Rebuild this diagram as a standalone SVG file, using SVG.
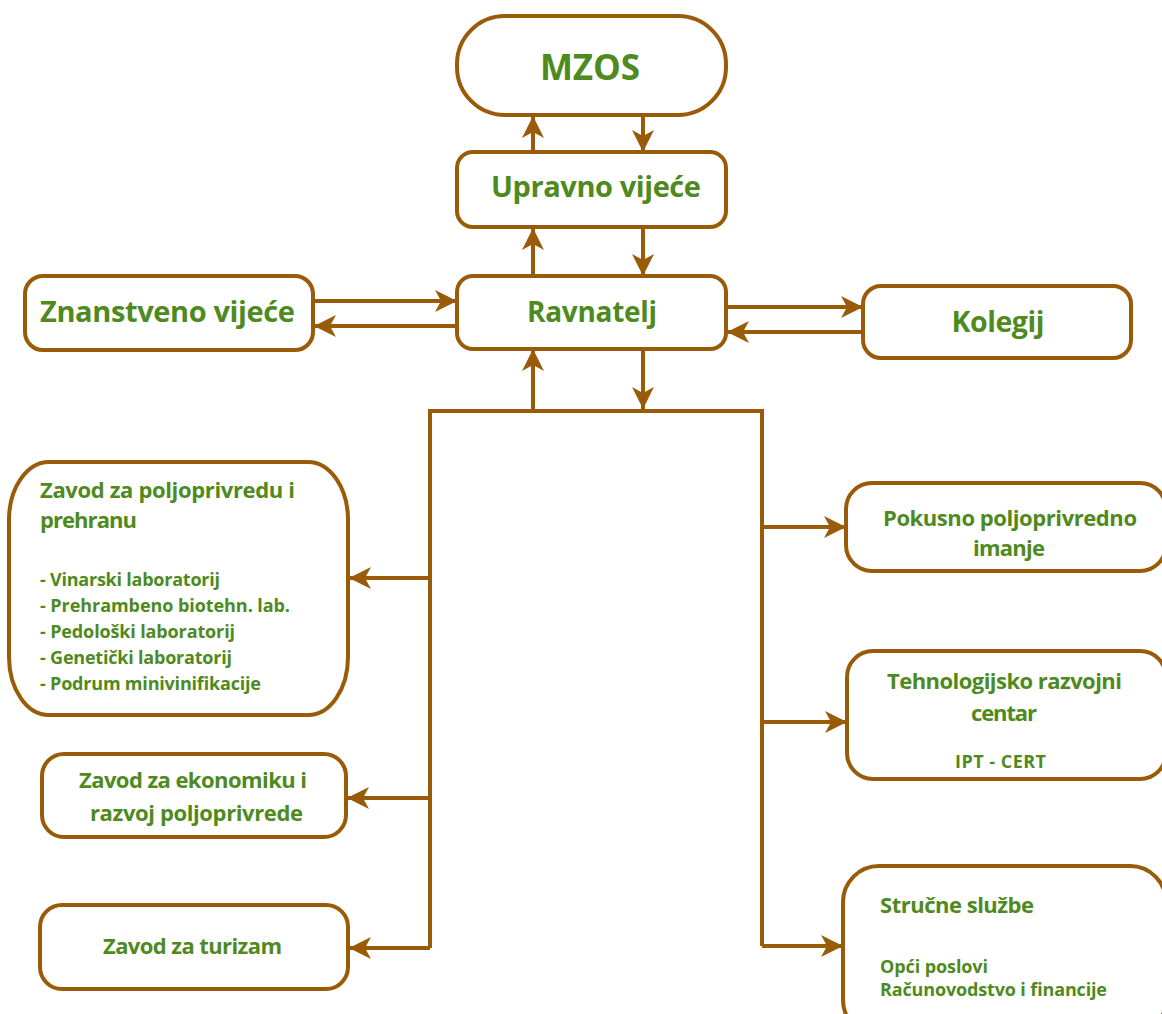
<svg xmlns="http://www.w3.org/2000/svg" width="1162" height="1014" viewBox="0 0 1162 1014">
<style>
.box{fill:#fff;stroke:#9a5b08;stroke-width:4}
.ln{fill:none;stroke:#9a5b08;stroke-width:4}
.t{font-family:"Open Sans","Noto Sans","Liberation Sans",sans-serif;font-weight:bold;fill:#4e8a20}
.c{text-anchor:middle}
.h1{font-size:29px}
.h2{font-size:22px}
.h3{font-size:18px}
</style>
<defs>
<marker id="ah" markerUnits="userSpaceOnUse" markerWidth="24" markerHeight="22" refX="22" refY="11" orient="auto">
<path d="M0,0 L22,11 L0,22 L6,11 Z" fill="#9a5b08"/>
</marker>
</defs>
<rect width="1162" height="1014" fill="#fff"/>
<g id="connectors">
<line class="ln" x1="533" y1="152" x2="533" y2="116" marker-end="url(#ah)"/>
<line class="ln" x1="643" y1="116" x2="643" y2="152" marker-end="url(#ah)"/>
<line class="ln" x1="533" y1="276" x2="533" y2="228" marker-end="url(#ah)"/>
<line class="ln" x1="643" y1="228" x2="643" y2="276" marker-end="url(#ah)"/>
<line class="ln" x1="533" y1="409" x2="533" y2="349" marker-end="url(#ah)"/>
<line class="ln" x1="643" y1="349" x2="643" y2="409" marker-end="url(#ah)"/>
<line class="ln" x1="314" y1="301" x2="457" y2="301" marker-end="url(#ah)"/>
<line class="ln" x1="457" y1="326" x2="314" y2="326" marker-end="url(#ah)"/>
<line class="ln" x1="726" y1="307" x2="863" y2="307" marker-end="url(#ah)"/>
<line class="ln" x1="863" y1="332" x2="727" y2="332" marker-end="url(#ah)"/>
<polyline class="ln" points="430,948 430,411 762,411 762,946"/>
<line class="ln" x1="430" y1="578" x2="349" y2="578" marker-end="url(#ah)"/>
<line class="ln" x1="430" y1="798" x2="347" y2="798" marker-end="url(#ah)"/>
<line class="ln" x1="430" y1="948" x2="349" y2="948" marker-end="url(#ah)"/>
<line class="ln" x1="762" y1="527" x2="846" y2="527" marker-end="url(#ah)"/>
<line class="ln" x1="762" y1="722" x2="847" y2="722" marker-end="url(#ah)"/>
<line class="ln" x1="762" y1="946" x2="843" y2="946" marker-end="url(#ah)"/>
</g>
<g id="mzos">
<rect class="box" x="457" y="16" width="269" height="99" rx="48" ry="48"/>
<text class="t c" x="590" y="80" font-size="35" textLength="100">MZOS</text>
</g>
<g id="upravno">
<rect class="box" x="457" y="152" width="269" height="75" rx="16"/>
<text class="t c h1" x="596" y="197" textLength="210">Upravno vijeće</text>
</g>
<g id="ravnatelj">
<rect class="box" x="457" y="276" width="269" height="73" rx="16"/>
<text class="t c" x="592" y="322" font-size="28" textLength="130">Ravnatelj</text>
</g>
<g id="znanstveno">
<rect class="box" x="25" y="276" width="288" height="74" rx="18"/>
<text class="t h1" x="40" y="322" textLength="255">Znanstveno vijeće</text>
</g>
<g id="kolegij">
<rect class="box" x="863" y="286" width="268" height="72" rx="18"/>
<text class="t c" x="998" y="332" font-size="28.5" textLength="93">Kolegij</text>
</g>
<g id="zavod-poljoprivreda">
<rect class="box" x="9" y="462" width="339" height="253" rx="40" ry="58"/>
<text class="t h2" x="40" y="498" textLength="255">Zavod za poljoprivredu i</text>
<text class="t h2" x="40" y="528" textLength="97">prehranu</text>
<text class="t h3" x="40" y="586" textLength="180">- Vinarski laboratorij</text>
<text class="t h3" x="40" y="612" textLength="250">- Prehrambeno biotehn. lab.</text>
<text class="t h3" x="40" y="638" textLength="195">- Pedološki laboratorij</text>
<text class="t h3" x="40" y="664" textLength="192">- Genetički laboratorij</text>
<text class="t h3" x="40" y="690" textLength="221">- Podrum minivinifikacije</text>
</g>
<g id="zavod-ekonomika">
<rect class="box" x="42" y="754" width="304" height="83" rx="22"/>
<text class="t c h2" x="193" y="788" textLength="228">Zavod za ekonomiku i</text>
<text class="t c h2" x="196.5" y="821" textLength="213">razvoj poljoprivrede</text>
</g>
<g id="zavod-turizam">
<rect class="box" x="40" y="905" width="308" height="84" rx="22"/>
<text class="t c h2" x="192.5" y="954" textLength="179">Zavod za turizam</text>
</g>
<g id="pokusno">
<rect class="box" x="846" y="483" width="320" height="88" rx="26"/>
<text class="t c h2" x="1010" y="526" textLength="254">Pokusno poljoprivredno</text>
<text class="t c h2" x="1009" y="556" textLength="72">imanje</text>
</g>
<g id="tehnologijsko">
<rect class="box" x="847" y="651" width="319" height="128" rx="26"/>
<text class="t c h2" x="1004.5" y="689" textLength="235">Tehnologijsko razvojni</text>
<text class="t c h2" x="1004" y="721" textLength="66">centar</text>
<text class="t c h3" x="1000.5" y="768" textLength="91">IPT - CERT</text>
</g>
<g id="strucne">
<rect class="box" x="843" y="866" width="323" height="170" rx="36"/>
<text class="t h2" x="880" y="913" textLength="154">Stručne službe</text>
<text class="t h3" x="880" y="973" textLength="108">Opći poslovi</text>
<text class="t h3" x="880" y="996" textLength="227">Računovodstvo i financije</text>
</g>
</svg>
